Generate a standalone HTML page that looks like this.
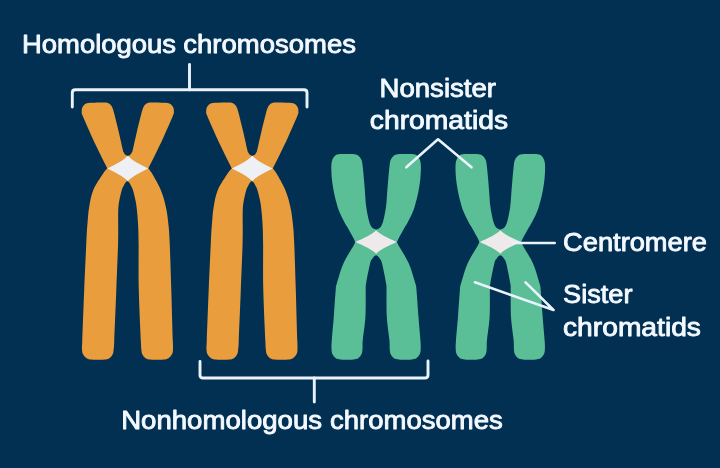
<!DOCTYPE html>
<html lang="en"><head><meta charset="utf-8"><title>Chromosomes</title>
<style>html,body{margin:0;padding:0;background:#013052;overflow:hidden}svg{display:block}</style>
</head><body>
<svg width="720" height="468" viewBox="0 0 720 468">
<rect width="720" height="468" fill="#013052"/>
<defs><filter id="soft" x="0" y="0" width="720" height="468" filterUnits="userSpaceOnUse"><feGaussianBlur stdDeviation="0.55"/></filter></defs><g filter="url(#soft)">
<g transform="translate(0,0)"><path fill="#e99d3c" d="M107.3,168.5 C107,167.9 106.9,167.6 105.6,165 C104.3,162.4 101.8,157.6 99.6,153 C97.4,148.4 95,143.7 92.2,137.5 C89.4,131.3 84.5,120.2 82.8,116 C81,111.8 81.8,113.4 81.7,112 C81.6,110.6 81.7,109 82.2,107.7 C82.7,106.4 83.5,105.2 84.5,104.4 C85.5,103.6 86.7,103.3 88,103 C89.3,102.7 89.8,102.8 92.5,102.7 C95.2,102.6 101.8,102.4 104.5,102.5 C107.2,102.6 107.3,102.7 108.5,103.3 C109.7,103.9 110.9,105 111.7,106.2 C112.5,107.4 112.9,109 113.3,110.2 C113.7,111.4 113.3,109.9 114.2,113.5 C115.1,117.1 117.3,125.8 118.7,131.7 C120.1,137.6 121.8,145.5 122.6,149 C123.4,152.5 123.3,151.6 123.8,152.6 C124.3,153.6 124.9,154.5 125.6,155.1 C126.3,155.7 127.4,155.8 127.8,155.9 L127.8,168.5 Z M148.3,168.5 C148.6,167.9 148.7,167.6 150,165 C151.3,162.4 153.8,157.6 156,153 C158.2,148.4 160.6,143.7 163.4,137.5 C166.2,131.3 171.1,120.2 172.8,116 C174.6,111.8 173.8,113.4 173.9,112 C174,110.6 173.9,109 173.4,107.7 C172.9,106.4 172.1,105.2 171.1,104.4 C170.1,103.6 168.9,103.3 167.6,103 C166.3,102.7 165.8,102.8 163.1,102.7 C160.3,102.6 153.8,102.4 151.1,102.5 C148.4,102.6 148.3,102.7 147.1,103.3 C145.9,103.9 144.7,105 143.9,106.2 C143.1,107.4 142.7,109 142.3,110.2 C141.9,111.4 142.3,109.9 141.4,113.5 C140.5,117.1 138.3,125.8 136.9,131.7 C135.5,137.6 133.8,145.5 133,149 C132.2,152.5 132.3,151.6 131.8,152.6 C131.3,153.6 130.7,154.5 130,155.1 C129.3,155.7 128.2,155.8 127.8,155.9 L127.8,168.5 Z M107.3,168.5 C106.6,169.3 105.6,169.7 103.3,173.3 C101,176.9 95.6,184.4 93.3,190 C91,195.6 90.2,201.1 89.2,206.7 C88.2,212.2 88,217.2 87.5,223.3 C87,229.4 86.8,231.9 86.3,243 C85.8,254.1 84.9,273.8 84.2,290 C83.5,306.2 82.7,330.2 82.3,340 C81.9,349.8 81.9,346.6 82,349 C82.1,351.4 82.2,352.8 83,354.3 C83.8,355.8 85.1,357.3 86.5,358.2 C87.9,359.1 89.6,359.3 91.5,359.6 C93.4,359.9 95.8,359.8 98,359.8 C100.2,359.8 102.6,359.9 104.5,359.6 C106.4,359.3 108.1,359.1 109.5,358.2 C110.9,357.3 112,355.8 112.7,354.3 C113.4,352.8 113.4,351.4 113.7,349 C114,346.6 113.9,349.8 114.3,340 C114.7,330.2 115.7,306.2 116.3,290 C116.9,273.8 117.8,254.1 118.1,243 C118.4,231.9 118.2,229 118.2,223.3 C118.2,217.6 118.1,212.9 118.3,209 C118.5,205.1 118.8,203.2 119.4,200 C120,196.8 121.1,192.3 121.8,190 C122.5,187.7 123,187.2 123.6,186 C124.2,184.8 124.7,183.8 125.2,183 C125.7,182.2 126.1,181.8 126.4,181.4 C126.8,181.1 127.2,181 127.3,180.9 L127.8,168.5 Z M148.3,168.5 C148.9,169.3 149.8,169.7 151.9,173.3 C154,176.9 158.5,184.4 160.8,190 C163.1,195.6 164.6,201.1 165.8,206.7 C167.1,212.2 167.7,217.2 168.3,223.3 C169,229.4 169.2,231.9 169.7,243 C170.2,254.1 170.8,273.8 171.3,290 C171.8,306.2 172.5,330.2 172.8,340 C173.1,349.8 173.1,346.6 173,349 C172.9,351.4 172.8,352.8 172,354.3 C171.2,355.8 169.9,357.3 168.5,358.2 C167.1,359.1 165.4,359.3 163.5,359.6 C161.6,359.9 159.2,359.8 157,359.8 C154.8,359.8 152.4,359.9 150.5,359.6 C148.6,359.3 146.9,359.1 145.5,358.2 C144.1,357.3 143,355.8 142.3,354.3 C141.6,352.8 141.6,351.4 141.3,349 C141.1,346.6 141.2,349.8 140.8,340 C140.4,330.2 139.2,306.2 138.8,290 C138.4,273.8 138.7,254.1 138.6,243 C138.5,231.9 138.3,229 138,223.3 C137.7,217.6 137.2,212.9 136.8,209 C136.4,205.1 136.1,203.2 135.4,200 C134.8,196.8 133.6,192.3 132.9,190 C132.2,187.7 131.7,187.2 131.1,186 C130.5,184.8 130,183.8 129.5,183 C129,182.2 128.7,181.8 128.3,181.4 C127.9,181.1 127.5,181 127.3,180.9 L127.8,168.5 Z"/><path fill="#e99d3c" d="M107.6,168.5 L127.8,156.2 L148,168.5 L127.8,180.8 Z"/><path fill="#eef0f5" d="M107.3,168.5 C115.5,164.3 123.1,160.9 127.8,155.8 C132.5,160.9 140.1,164.3 148.3,168.5 C140.1,172.7 132.5,176.1 127.8,181.2 C123.1,176.1 115.5,172.7 107.3,168.5 Z"/></g>
<g transform="translate(124.5,0)"><path fill="#e99d3c" d="M107.3,168.5 C107,167.9 106.9,167.6 105.6,165 C104.3,162.4 101.8,157.6 99.6,153 C97.4,148.4 95,143.7 92.2,137.5 C89.4,131.3 84.5,120.2 82.8,116 C81,111.8 81.8,113.4 81.7,112 C81.6,110.6 81.7,109 82.2,107.7 C82.7,106.4 83.5,105.2 84.5,104.4 C85.5,103.6 86.7,103.3 88,103 C89.3,102.7 89.8,102.8 92.5,102.7 C95.2,102.6 101.8,102.4 104.5,102.5 C107.2,102.6 107.3,102.7 108.5,103.3 C109.7,103.9 110.9,105 111.7,106.2 C112.5,107.4 112.9,109 113.3,110.2 C113.7,111.4 113.3,109.9 114.2,113.5 C115.1,117.1 117.3,125.8 118.7,131.7 C120.1,137.6 121.8,145.5 122.6,149 C123.4,152.5 123.3,151.6 123.8,152.6 C124.3,153.6 124.9,154.5 125.6,155.1 C126.3,155.7 127.4,155.8 127.8,155.9 L127.8,168.5 Z M148.3,168.5 C148.6,167.9 148.7,167.6 150,165 C151.3,162.4 153.8,157.6 156,153 C158.2,148.4 160.6,143.7 163.4,137.5 C166.2,131.3 171.1,120.2 172.8,116 C174.6,111.8 173.8,113.4 173.9,112 C174,110.6 173.9,109 173.4,107.7 C172.9,106.4 172.1,105.2 171.1,104.4 C170.1,103.6 168.9,103.3 167.6,103 C166.3,102.7 165.8,102.8 163.1,102.7 C160.3,102.6 153.8,102.4 151.1,102.5 C148.4,102.6 148.3,102.7 147.1,103.3 C145.9,103.9 144.7,105 143.9,106.2 C143.1,107.4 142.7,109 142.3,110.2 C141.9,111.4 142.3,109.9 141.4,113.5 C140.5,117.1 138.3,125.8 136.9,131.7 C135.5,137.6 133.8,145.5 133,149 C132.2,152.5 132.3,151.6 131.8,152.6 C131.3,153.6 130.7,154.5 130,155.1 C129.3,155.7 128.2,155.8 127.8,155.9 L127.8,168.5 Z M107.3,168.5 C106.6,169.3 105.6,169.7 103.3,173.3 C101,176.9 95.6,184.4 93.3,190 C91,195.6 90.2,201.1 89.2,206.7 C88.2,212.2 88,217.2 87.5,223.3 C87,229.4 86.8,231.9 86.3,243 C85.8,254.1 84.9,273.8 84.2,290 C83.5,306.2 82.7,330.2 82.3,340 C81.9,349.8 81.9,346.6 82,349 C82.1,351.4 82.2,352.8 83,354.3 C83.8,355.8 85.1,357.3 86.5,358.2 C87.9,359.1 89.6,359.3 91.5,359.6 C93.4,359.9 95.8,359.8 98,359.8 C100.2,359.8 102.6,359.9 104.5,359.6 C106.4,359.3 108.1,359.1 109.5,358.2 C110.9,357.3 112,355.8 112.7,354.3 C113.4,352.8 113.4,351.4 113.7,349 C114,346.6 113.9,349.8 114.3,340 C114.7,330.2 115.7,306.2 116.3,290 C116.9,273.8 117.8,254.1 118.1,243 C118.4,231.9 118.2,229 118.2,223.3 C118.2,217.6 118.1,212.9 118.3,209 C118.5,205.1 118.8,203.2 119.4,200 C120,196.8 121.1,192.3 121.8,190 C122.5,187.7 123,187.2 123.6,186 C124.2,184.8 124.7,183.8 125.2,183 C125.7,182.2 126.1,181.8 126.4,181.4 C126.8,181.1 127.2,181 127.3,180.9 L127.8,168.5 Z M148.3,168.5 C148.9,169.3 149.8,169.7 151.9,173.3 C154,176.9 158.5,184.4 160.8,190 C163.1,195.6 164.6,201.1 165.8,206.7 C167.1,212.2 167.7,217.2 168.3,223.3 C169,229.4 169.2,231.9 169.7,243 C170.2,254.1 170.8,273.8 171.3,290 C171.8,306.2 172.5,330.2 172.8,340 C173.1,349.8 173.1,346.6 173,349 C172.9,351.4 172.8,352.8 172,354.3 C171.2,355.8 169.9,357.3 168.5,358.2 C167.1,359.1 165.4,359.3 163.5,359.6 C161.6,359.9 159.2,359.8 157,359.8 C154.8,359.8 152.4,359.9 150.5,359.6 C148.6,359.3 146.9,359.1 145.5,358.2 C144.1,357.3 143,355.8 142.3,354.3 C141.6,352.8 141.6,351.4 141.3,349 C141.1,346.6 141.2,349.8 140.8,340 C140.4,330.2 139.2,306.2 138.8,290 C138.4,273.8 138.7,254.1 138.6,243 C138.5,231.9 138.3,229 138,223.3 C137.7,217.6 137.2,212.9 136.8,209 C136.4,205.1 136.1,203.2 135.4,200 C134.8,196.8 133.6,192.3 132.9,190 C132.2,187.7 131.7,187.2 131.1,186 C130.5,184.8 130,183.8 129.5,183 C129,182.2 128.7,181.8 128.3,181.4 C127.9,181.1 127.5,181 127.3,180.9 L127.8,168.5 Z"/><path fill="#e99d3c" d="M107.6,168.5 L127.8,156.2 L148,168.5 L127.8,180.8 Z"/><path fill="#eef0f5" d="M107.3,168.5 C115.5,164.3 123.1,160.9 127.8,155.8 C132.5,160.9 140.1,164.3 148.3,168.5 C140.1,172.7 132.5,176.1 127.8,181.2 C123.1,176.1 115.5,172.7 107.3,168.5 Z"/></g>
<g transform="translate(0,0)"><path fill="#5abe96" d="M355.2,242 C354.9,241.4 354.5,240.3 353.5,238.3 C352.5,236.3 350.5,232.7 349,230 C347.5,227.3 345.9,225 344.3,222 C342.7,219 340.8,215 339.5,212 C338.2,209 337.6,206.8 336.8,204 C336,201.2 335.1,197.8 334.5,195 C333.9,192.2 333.4,189.8 333,187 C332.6,184.2 332.1,181.4 331.8,178 C331.5,174.6 331.2,169.5 331.3,166.5 C331.4,163.5 331.6,162 332.2,160.2 C332.8,158.4 333.8,156.9 334.8,155.9 C335.9,154.9 336.6,154.6 338.5,154.3 C340.4,154 343.8,154.1 346.5,154.1 C349.2,154.1 352.5,154 354.5,154.3 C356.5,154.6 357.4,154.9 358.6,155.9 C359.8,156.9 360.9,158.4 361.6,160.2 C362.3,162 362.3,163.2 362.7,166.5 C363.1,169.8 363.6,175.2 364,180 C364.4,184.8 364.9,190.8 365.2,195 C365.5,199.2 365.6,201.9 366,205 C366.4,208.1 366.8,210.5 367.3,213.3 C367.9,216.1 368.5,219.6 369.3,222 C370.1,224.4 370.9,226.3 372,227.6 C373.1,228.9 375.4,229.4 376.1,229.8 L376.1,242 Z M397,242 C397.3,241.4 397.7,240.3 398.7,238.3 C399.7,236.3 401.7,232.7 403.2,230 C404.7,227.3 406.3,225 407.9,222 C409.5,219 411.5,215 412.7,212 C414,209 414.6,206.8 415.4,204 C416.2,201.2 417.1,197.8 417.7,195 C418.3,192.2 418.8,189.8 419.2,187 C419.7,184.2 420.1,181.4 420.4,178 C420.7,174.6 421,169.5 420.9,166.5 C420.8,163.5 420.6,162 420,160.2 C419.4,158.4 418.5,156.9 417.4,155.9 C416.4,154.9 415.7,154.6 413.7,154.3 C411.8,154 408.4,154.1 405.7,154.1 C403,154.1 399.7,154 397.7,154.3 C395.7,154.6 394.8,154.9 393.6,155.9 C392.4,156.9 391.3,158.4 390.6,160.2 C389.9,162 389.9,163.2 389.5,166.5 C389.1,169.8 388.6,175.2 388.2,180 C387.8,184.8 387.3,190.8 387,195 C386.7,199.2 386.6,201.9 386.2,205 C385.9,208.1 385.5,210.5 384.9,213.3 C384.4,216.1 383.7,219.6 382.9,222 C382.1,224.4 381.3,226.3 380.2,227.6 C379.1,228.9 376.8,229.4 376.1,229.8 L376.1,242 Z M355.2,242 C354.9,242.6 355.4,242.1 353.5,245.7 C351.6,249.2 346.2,257.1 343.5,263.3 C340.8,269.5 338.3,278.6 337,283 C335.7,287.4 336.2,284.3 335.7,290 C335.2,295.7 334.4,308.7 333.8,317 C333.1,325.3 332.2,334.7 331.8,340 C331.4,345.3 331.4,346.6 331.5,349 C331.6,351.4 331.8,352.8 332.5,354.3 C333.2,355.8 334.5,357.3 335.8,358.2 C337.1,359.1 338.6,359.2 340.5,359.5 C342.4,359.8 344.8,359.7 347,359.7 C349.2,359.7 351.6,359.8 353.5,359.5 C355.4,359.2 357,359.1 358.3,358.2 C359.6,357.3 360.8,355.8 361.5,354.3 C362.2,352.8 362.3,351.4 362.5,349 C362.7,346.6 362.3,345.3 362.8,340 C363.3,334.7 364.9,325.3 365.4,317 C365.9,308.7 365.6,295.7 365.7,290 C365.8,284.3 365.4,287.4 366.2,283 C366.9,278.6 369.1,267.4 370.2,263.3 C371.2,259.2 371.8,259.8 372.5,258.6 C373.2,257.4 373.9,256.7 374.5,256.1 C375.1,255.6 375.8,255.4 376.1,255.3 L376.1,242 Z M397,242 C397.3,242.6 396.8,242.1 398.7,245.7 C400.7,249.2 406,257.1 408.7,263.3 C411.5,269.5 413.9,278.6 415.2,283 C416.5,287.4 416,284.3 416.5,290 C417,295.7 417.8,308.7 418.5,317 C419.1,325.3 420,334.7 420.4,340 C420.8,345.3 420.8,346.6 420.7,349 C420.6,351.4 420.4,352.8 419.7,354.3 C419,355.8 417.7,357.3 416.4,358.2 C415.1,359.1 413.6,359.2 411.7,359.5 C409.8,359.8 407.4,359.7 405.2,359.7 C403,359.7 400.6,359.8 398.7,359.5 C396.8,359.2 395.2,359.1 393.9,358.2 C392.6,357.3 391.4,355.8 390.7,354.3 C390,352.8 389.9,351.4 389.7,349 C389.5,346.6 389.9,345.3 389.4,340 C388.9,334.7 387.3,325.3 386.8,317 C386.3,308.7 386.6,295.7 386.5,290 C386.4,284.3 386.8,287.4 386,283 C385.3,278.6 383.1,267.4 382,263.3 C381,259.2 380.4,259.8 379.7,258.6 C379,257.4 378.3,256.7 377.7,256.1 C377.1,255.6 376.4,255.4 376.1,255.3 L376.1,242 Z"/><path fill="#5abe96" d="M355.4,242 L376.1,230 L396.8,242 L376.1,254 Z"/><path fill="#eee9eb" d="M355.5,242 C363.7,238.1 371.4,234.9 376.1,230.2 C380.8,234.9 388.5,238.1 396.7,242 C388.5,245.9 380.8,249.1 376.1,253.8 C371.4,249.1 363.7,245.9 355.5,242 Z"/></g>
<g transform="translate(124.2,0)"><path fill="#5abe96" d="M355.2,242 C354.9,241.4 354.5,240.3 353.5,238.3 C352.5,236.3 350.5,232.7 349,230 C347.5,227.3 345.9,225 344.3,222 C342.7,219 340.8,215 339.5,212 C338.2,209 337.6,206.8 336.8,204 C336,201.2 335.1,197.8 334.5,195 C333.9,192.2 333.4,189.8 333,187 C332.6,184.2 332.1,181.4 331.8,178 C331.5,174.6 331.2,169.5 331.3,166.5 C331.4,163.5 331.6,162 332.2,160.2 C332.8,158.4 333.8,156.9 334.8,155.9 C335.9,154.9 336.6,154.6 338.5,154.3 C340.4,154 343.8,154.1 346.5,154.1 C349.2,154.1 352.5,154 354.5,154.3 C356.5,154.6 357.4,154.9 358.6,155.9 C359.8,156.9 360.9,158.4 361.6,160.2 C362.3,162 362.3,163.2 362.7,166.5 C363.1,169.8 363.6,175.2 364,180 C364.4,184.8 364.9,190.8 365.2,195 C365.5,199.2 365.6,201.9 366,205 C366.4,208.1 366.8,210.5 367.3,213.3 C367.9,216.1 368.5,219.6 369.3,222 C370.1,224.4 370.9,226.3 372,227.6 C373.1,228.9 375.4,229.4 376.1,229.8 L376.1,242 Z M397,242 C397.3,241.4 397.7,240.3 398.7,238.3 C399.7,236.3 401.7,232.7 403.2,230 C404.7,227.3 406.3,225 407.9,222 C409.5,219 411.5,215 412.7,212 C414,209 414.6,206.8 415.4,204 C416.2,201.2 417.1,197.8 417.7,195 C418.3,192.2 418.8,189.8 419.2,187 C419.7,184.2 420.1,181.4 420.4,178 C420.7,174.6 421,169.5 420.9,166.5 C420.8,163.5 420.6,162 420,160.2 C419.4,158.4 418.5,156.9 417.4,155.9 C416.4,154.9 415.7,154.6 413.7,154.3 C411.8,154 408.4,154.1 405.7,154.1 C403,154.1 399.7,154 397.7,154.3 C395.7,154.6 394.8,154.9 393.6,155.9 C392.4,156.9 391.3,158.4 390.6,160.2 C389.9,162 389.9,163.2 389.5,166.5 C389.1,169.8 388.6,175.2 388.2,180 C387.8,184.8 387.3,190.8 387,195 C386.7,199.2 386.6,201.9 386.2,205 C385.9,208.1 385.5,210.5 384.9,213.3 C384.4,216.1 383.7,219.6 382.9,222 C382.1,224.4 381.3,226.3 380.2,227.6 C379.1,228.9 376.8,229.4 376.1,229.8 L376.1,242 Z M355.2,242 C354.9,242.6 355.4,242.1 353.5,245.7 C351.6,249.2 346.2,257.1 343.5,263.3 C340.8,269.5 338.3,278.6 337,283 C335.7,287.4 336.2,284.3 335.7,290 C335.2,295.7 334.4,308.7 333.8,317 C333.1,325.3 332.2,334.7 331.8,340 C331.4,345.3 331.4,346.6 331.5,349 C331.6,351.4 331.8,352.8 332.5,354.3 C333.2,355.8 334.5,357.3 335.8,358.2 C337.1,359.1 338.6,359.2 340.5,359.5 C342.4,359.8 344.8,359.7 347,359.7 C349.2,359.7 351.6,359.8 353.5,359.5 C355.4,359.2 357,359.1 358.3,358.2 C359.6,357.3 360.8,355.8 361.5,354.3 C362.2,352.8 362.3,351.4 362.5,349 C362.7,346.6 362.3,345.3 362.8,340 C363.3,334.7 364.9,325.3 365.4,317 C365.9,308.7 365.6,295.7 365.7,290 C365.8,284.3 365.4,287.4 366.2,283 C366.9,278.6 369.1,267.4 370.2,263.3 C371.2,259.2 371.8,259.8 372.5,258.6 C373.2,257.4 373.9,256.7 374.5,256.1 C375.1,255.6 375.8,255.4 376.1,255.3 L376.1,242 Z M397,242 C397.3,242.6 396.8,242.1 398.7,245.7 C400.7,249.2 406,257.1 408.7,263.3 C411.5,269.5 413.9,278.6 415.2,283 C416.5,287.4 416,284.3 416.5,290 C417,295.7 417.8,308.7 418.5,317 C419.1,325.3 420,334.7 420.4,340 C420.8,345.3 420.8,346.6 420.7,349 C420.6,351.4 420.4,352.8 419.7,354.3 C419,355.8 417.7,357.3 416.4,358.2 C415.1,359.1 413.6,359.2 411.7,359.5 C409.8,359.8 407.4,359.7 405.2,359.7 C403,359.7 400.6,359.8 398.7,359.5 C396.8,359.2 395.2,359.1 393.9,358.2 C392.6,357.3 391.4,355.8 390.7,354.3 C390,352.8 389.9,351.4 389.7,349 C389.5,346.6 389.9,345.3 389.4,340 C388.9,334.7 387.3,325.3 386.8,317 C386.3,308.7 386.6,295.7 386.5,290 C386.4,284.3 386.8,287.4 386,283 C385.3,278.6 383.1,267.4 382,263.3 C381,259.2 380.4,259.8 379.7,258.6 C379,257.4 378.3,256.7 377.7,256.1 C377.1,255.6 376.4,255.4 376.1,255.3 L376.1,242 Z"/><path fill="#5abe96" d="M355.4,242 L376.1,230 L396.8,242 L376.1,254 Z"/><path fill="#eee9eb" d="M355.5,242 C363.7,238.1 371.4,234.9 376.1,230.2 C380.8,234.9 388.5,238.1 396.7,242 C388.5,245.9 380.8,249.1 376.1,253.8 C371.4,249.1 363.7,245.9 355.5,242 Z"/></g>
<g fill="none" stroke="#eaf3fc" stroke-width="2.9" stroke-linecap="round" stroke-linejoin="round">
<path d="M72.3,107 V92.8 Q72.3,89.8 75.3,89.8 H304 Q307,89.8 307,92.8 V107"/>
<path d="M189.5,64.5 V89.8"/>
<path d="M200,361.5 V375 Q200,378 203,378 H425 Q428,378 428,375 V361"/>
<path d="M314.3,378 V402"/>
</g><g fill="none" stroke="#eaf3fc" stroke-width="2.6" stroke-linecap="round" stroke-linejoin="round">
<path d="M406.3,167.3 L438,139.3 L471.5,167.3"/>
<path d="M513.3,243 H554.7"/>
<path d="M475,282.3 L553.5,310 L525.5,282.3"/>
</g>
<g fill="#f4f9ff" stroke="#f4f9ff" stroke-width="0.85" stroke-linejoin="round" font-family="'Liberation Sans', Arial, sans-serif" font-weight="normal" font-size="25">
<text x="22" y="52.6" textLength="154.09" lengthAdjust="spacingAndGlyphs">Homologous</text>
<text x="183.3" y="52.6" textLength="172.65" lengthAdjust="spacingAndGlyphs">chromosomes</text>
<text x="379.5" y="97.1" textLength="116.51" lengthAdjust="spacingAndGlyphs">Nonsister</text>
<text x="369.8" y="128.9" textLength="138.21" lengthAdjust="spacingAndGlyphs">chromatids</text>
<text x="563.1" y="250.9" textLength="143.83" lengthAdjust="spacingAndGlyphs">Centromere</text>
<text x="563.1" y="303.4" textLength="69.38" lengthAdjust="spacingAndGlyphs">Sister</text>
<text x="563" y="335.9" textLength="137.96" lengthAdjust="spacingAndGlyphs">chromatids</text>
<text x="121.2" y="428.9" textLength="200.85" lengthAdjust="spacingAndGlyphs">Nonhomologous</text>
<text x="330.1" y="428.9" textLength="172.60" lengthAdjust="spacingAndGlyphs">chromosomes</text>
</g>
</g>
</svg>
</body></html>
